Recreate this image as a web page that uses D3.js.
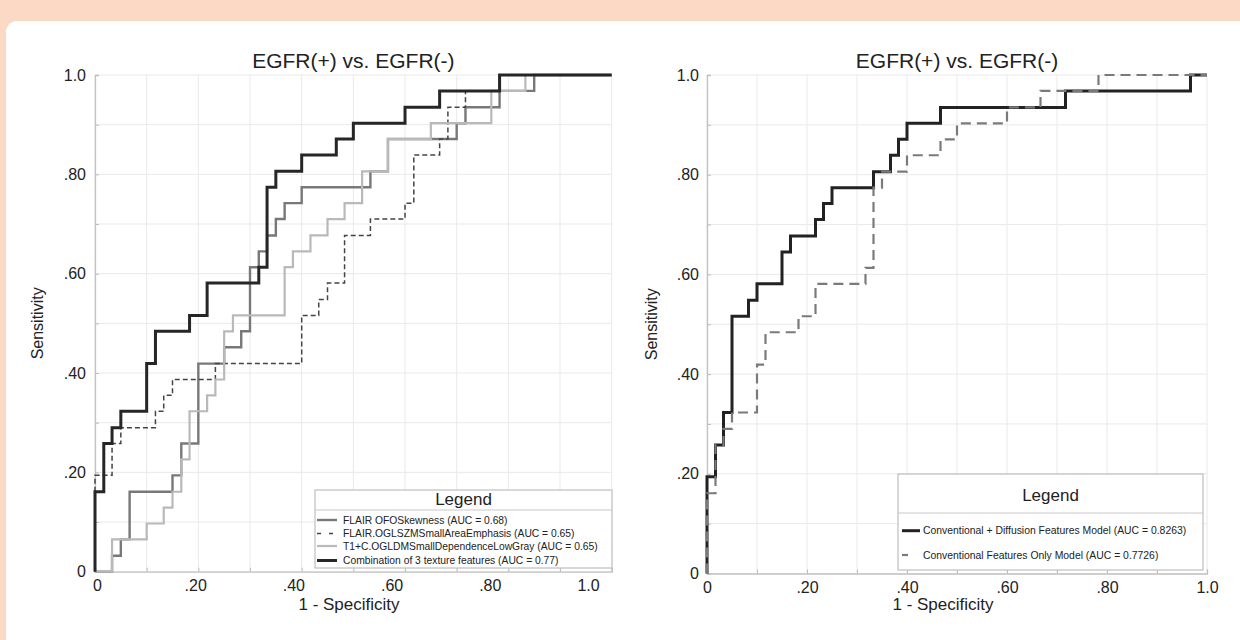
<!DOCTYPE html>
<html>
<head>
<meta charset="utf-8">
<script src="https://cdn.jsdelivr.net/npm/d3@7"></script>
<style>
  html, body { margin: 0; padding: 0; background: #fcd9c5; }
  svg { display: block; }
</style>
</head>
<body>
<svg id="chart" width="1240" height="640"></svg>
<script>
// ---------------- DATA ----------------
const tickValues = [0, 0.2, 0.4, 0.6, 0.8, 1.0];
const tickLabels = ["0", ".20", ".40", ".60", ".80", "1.0"];
const gridValues = [0, 0.1, 0.2, 0.3, 0.4, 0.5, 0.6, 0.7, 0.8, 0.9, 1.0];

const chartTitle = "EGFR(+) vs. EGFR(-)";
const xAxisTitle = "1 - Specificity";
const yAxisTitle = "Sensitivity";
const legendTitle = "Legend";

// Left chart: four ROC curves (1 - specificity, sensitivity), step vertices
const leftNames = [
  "FLAIR OFOSkewness (AUC = 0.68)",
  "FLAIR.OGLSZMSmallAreaEmphasis (AUC = 0.65)",
  "T1+C.OGLDMSmallDependenceLowGray (AUC = 0.65)",
  "Combination of 3 texture features (AUC = 0.77)"
];
const skewFpr = [0, 0.033, 0.05, 0.067, 0.15, 0.167, 0.2, 0.25, 0.283, 0.3, 0.317, 0.333, 0.35, 0.367, 0.4, 0.533, 0.567, 0.7, 0.717, 0.783, 0.85, 1.0];
const skewTpr = [0, 0.032, 0.065, 0.161, 0.194, 0.258, 0.419, 0.452, 0.484, 0.613, 0.645, 0.677, 0.71, 0.742, 0.774, 0.806, 0.871, 0.903, 0.935, 0.968, 1.0, 1.0];

const glszmFpr = [0, 0, 0.033, 0.05, 0.117, 0.133, 0.15, 0.233, 0.4, 0.433, 0.45, 0.483, 0.533, 0.6, 0.617, 0.667, 0.683, 0.717, 0.783, 1.0];
const glszmTpr = [0, 0.194, 0.258, 0.29, 0.323, 0.355, 0.387, 0.419, 0.516, 0.548, 0.581, 0.677, 0.71, 0.742, 0.839, 0.871, 0.935, 0.968, 1.0, 1.0];

const gldmFpr = [0, 0.033, 0.1, 0.133, 0.15, 0.167, 0.183, 0.217, 0.233, 0.25, 0.267, 0.367, 0.383, 0.417, 0.45, 0.483, 0.517, 0.567, 0.65, 0.767, 0.833, 1.0];
const gldmTpr = [0, 0.065, 0.097, 0.129, 0.161, 0.226, 0.323, 0.355, 0.387, 0.484, 0.516, 0.613, 0.645, 0.677, 0.71, 0.742, 0.806, 0.871, 0.903, 0.968, 1.0, 1.0];

const comboFpr = [0, 0, 0.017, 0.033, 0.05, 0.1, 0.117, 0.183, 0.217, 0.317, 0.333, 0.35, 0.4, 0.467, 0.5, 0.6, 0.667, 0.783, 1.0];
const comboTpr = [0, 0.161, 0.258, 0.29, 0.323, 0.419, 0.484, 0.516, 0.581, 0.613, 0.774, 0.806, 0.839, 0.871, 0.903, 0.935, 0.968, 1.0, 1.0];

// Right chart: two ROC curves
const rightNames = [
  "Conventional + Diffusion Features Model (AUC = 0.8263)",
  "Conventional Features Only Model (AUC = 0.7726)"
];
const diffFpr = [0, 0, 0.017, 0.033, 0.05, 0.083, 0.1, 0.15, 0.167, 0.217, 0.233, 0.25, 0.333, 0.367, 0.383, 0.4, 0.467, 0.717, 0.967, 1.0];
const diffTpr = [0, 0.194, 0.258, 0.323, 0.516, 0.548, 0.581, 0.645, 0.677, 0.71, 0.742, 0.774, 0.806, 0.839, 0.871, 0.903, 0.935, 0.968, 1.0, 1.0];

const convFpr = [0, 0, 0.017, 0.033, 0.05, 0.1, 0.117, 0.183, 0.217, 0.317, 0.333, 0.35, 0.4, 0.467, 0.5, 0.6, 0.667, 0.783, 1.0];
const convTpr = [0, 0.161, 0.258, 0.29, 0.323, 0.419, 0.484, 0.516, 0.581, 0.613, 0.774, 0.806, 0.839, 0.871, 0.903, 0.935, 0.968, 1.0, 1.0];

// ---------------- DRAWING ----------------
const FONT = '"Liberation Sans", Arial, Helvetica, sans-serif';
const svg = d3.select("#chart");

svg.append("rect").attr("width", 1240).attr("height", 640).attr("fill", "#fcd9c5");
svg.append("rect").attr("x", 6).attr("y", 21).attr("width", 1300).attr("height", 700)
  .attr("rx", 11).attr("fill", "#ffffff");

function drawChart(o) {
  const x = d3.scaleLinear().domain([0, 1]).range([o.left, o.right]);
  const y = d3.scaleLinear().domain([0, 1]).range([o.bottom, o.top]);
  const xLab = d3.scaleLinear().domain([0, 1]).range(o.labelRange || [o.left, o.right]);
  const g = svg.append("g");

  // grid
  g.append("g").selectAll("line").data(gridValues).join("line")
    .attr("x1", d => x(d)).attr("x2", d => x(d))
    .attr("y1", o.top).attr("y2", o.bottom)
    .attr("stroke", "#e9e9e9").attr("stroke-width", 1);
  g.append("g").selectAll("line").data(gridValues).join("line")
    .attr("y1", d => y(d)).attr("y2", d => y(d))
    .attr("x1", o.left).attr("x2", o.right)
    .attr("stroke", "#e9e9e9").attr("stroke-width", 1);

  // inward minor ticks
  const tb = g.append("g").attr("transform", `translate(0,${o.bottom})`)
    .call(d3.axisBottom(x).tickValues(gridValues).tickSize(-4).tickFormat(""));
  tb.select(".domain").attr("stroke", "#c2c2c2").attr("stroke-width", 1.3);
  tb.selectAll(".tick line").attr("stroke", "#bdbdbd");
  const tl = g.append("g").attr("transform", `translate(${o.left},0)`)
    .call(d3.axisLeft(y).tickValues(gridValues).tickSize(-4).tickFormat(""));
  tl.select(".domain").attr("stroke", "#c2c2c2").attr("stroke-width", 1.3);
  tl.selectAll(".tick line").attr("stroke", "#bdbdbd");

  // tick labels
  const lb = g.append("g").attr("transform", `translate(0,${o.bottom})`)
    .call(d3.axisBottom(xLab).tickValues(tickValues).tickSize(0).tickPadding(8)
      .tickFormat((d, i) => tickLabels[i]));
  lb.select(".domain").remove();
  lb.selectAll("text").attr("font-family", FONT).attr("font-size", 16).attr("fill", "#222");
  const ll = g.append("g").attr("transform", `translate(${o.left},0)`)
    .call(d3.axisLeft(y).tickValues(tickValues).tickSize(0).tickPadding(o.yPad)
      .tickFormat((d, i) => tickLabels[i]));
  ll.select(".domain").remove();
  ll.selectAll("text").attr("font-family", FONT).attr("font-size", 16).attr("fill", "#222");

  // curves
  const line = d3.line().x(d => x(d[0])).y(d => y(d[1])).curve(d3.curveStepAfter);
  o.series.forEach(s => {
    g.append("path").datum(d3.zip(s.fpr, s.tpr))
      .attr("d", line).attr("fill", "none")
      .attr("stroke", s.color).attr("stroke-width", s.width)
      .attr("stroke-dasharray", s.dash || null)
      .attr("stroke-linejoin", "miter");
  });

  // titles
  g.append("text").attr("x", (o.left + o.right) / 2).attr("y", 68)
    .attr("text-anchor", "middle").attr("font-family", FONT).attr("font-size", 21)
    .attr("fill", "#222").text(chartTitle);
  g.append("text").attr("x", o.xTitleX).attr("y", 610)
    .attr("text-anchor", "middle").attr("font-family", FONT).attr("font-size", 17)
    .attr("fill", "#222").text(xAxisTitle);
  g.append("text").attr("transform", `translate(${o.yTitleX},${(o.top + o.bottom) / 2}) rotate(-90)`)
    .attr("text-anchor", "middle").attr("font-family", FONT).attr("font-size", 16)
    .attr("fill", "#222").text(yAxisTitle);

  // legend
  const L = o.legend;
  const lg = g.append("g");
  lg.append("rect").attr("x", L.x).attr("y", L.y).attr("width", L.w).attr("height", L.h)
    .attr("fill", "#fff").attr("stroke", "#bfbfbf").attr("stroke-width", 1.2);
  lg.append("line").attr("x1", L.x).attr("x2", L.x + L.w).attr("y1", L.div).attr("y2", L.div)
    .attr("stroke", "#c8c8c8").attr("stroke-width", 1);
  lg.append("text").attr("x", L.x + L.w / 2).attr("y", L.titleY)
    .attr("text-anchor", "middle").attr("font-family", FONT).attr("font-size", 17)
    .attr("fill", "#222").text(legendTitle);
  o.series.forEach((s, i) => {
    const ry = L.rows[i];
    lg.append("line").attr("x1", L.sx0).attr("x2", L.sx1).attr("y1", ry).attr("y2", ry)
      .attr("stroke", s.color).attr("stroke-width", s.width)
      .attr("stroke-dasharray", s.legendDash || s.dash || null);
    lg.append("text").attr("x", L.tx).attr("y", ry + L.fs * 0.36)
      .attr("font-family", FONT).attr("font-size", L.fs).attr("fill", "#222")
      .text(o.names[i]);
  });
}

drawChart({
  left: 95, right: 611.7, top: 75, bottom: 571.7,
  labelRange: [97, 588], yPad: 9,
  xTitleX: 349, yTitleX: 43,
  names: leftNames,
  series: [
    { fpr: skewFpr, tpr: skewTpr, color: "#787878", width: 2.4 },
    { fpr: glszmFpr, tpr: glszmTpr, color: "#444444", width: 1.5, dash: "5,3", legendDash: "4,8" },
    { fpr: gldmFpr, tpr: gldmTpr, color: "#b9b9b9", width: 2.2 },
    { fpr: comboFpr, tpr: comboTpr, color: "#262626", width: 3 }
  ],
  legend: { x: 315, y: 490, w: 297, h: 78, div: 510, titleY: 505, sx0: 317, sx1: 337, tx: 343,
            fs: 10.3, rows: [520, 533.5, 546, 560.5] }
});

drawChart({
  left: 707, right: 1207, top: 75, bottom: 573.5,
  yPad: 8,
  xTitleX: 943, yTitleX: 657,
  names: rightNames,
  series: [
    { fpr: diffFpr, tpr: diffTpr, color: "#222222", width: 3 },
    { fpr: convFpr, tpr: convTpr, color: "#7a7a7a", width: 2.2, dash: "10,6", legendDash: "6,14" }
  ],
  legend: { x: 898, y: 474, w: 305, h: 96, div: 513, titleY: 501, sx0: 902, sx1: 920, tx: 923,
            fs: 10.4, rows: [530.7, 555] }
});
</script>
</body>
</html>
